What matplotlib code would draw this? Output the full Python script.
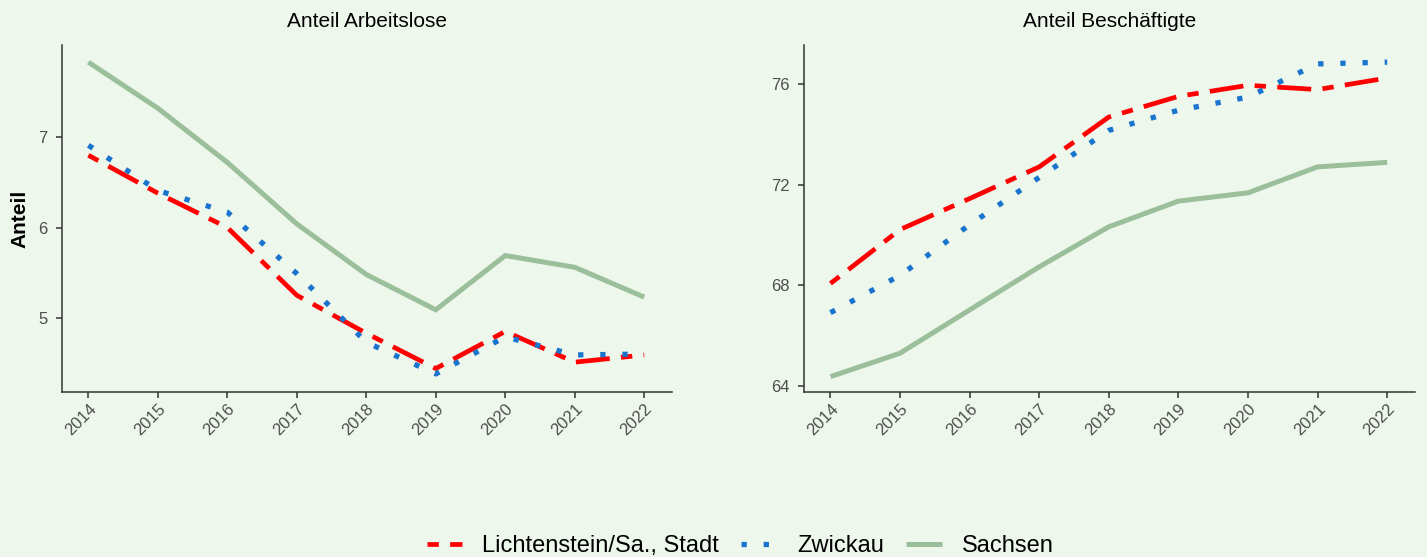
import matplotlib
matplotlib.use("Agg")
import matplotlib.pyplot as plt
from matplotlib.lines import Line2D

plt.rcParams['font.family'] = ['Liberation Sans', 'DejaVu Sans']

years = [2014, 2015, 2016, 2017, 2018, 2019, 2020, 2021, 2022]

# Anteil Arbeitslose
alo_lichtenstein = [6.80, 6.38, 6.00, 5.25, 4.83, 4.44, 4.85, 4.51, 4.59]
alo_zwickau = [6.91, 6.41, 6.17, 5.49, 4.73, 4.38, 4.79, 4.59, 4.60]
alo_sachsen = [7.83, 7.32, 6.72, 6.04, 5.48, 5.09, 5.69, 5.56, 5.23]

# Anteil Beschaeftigte
bes_lichtenstein = [68.08, 70.22, 71.45, 72.71, 74.69, 75.51, 75.95, 75.78, 76.24]
bes_zwickau = [66.92, 68.40, 70.41, 72.29, 74.16, 74.96, 75.48, 76.80, 76.87]
bes_sachsen = [64.38, 65.31, 67.03, 68.74, 70.33, 71.35, 71.68, 72.71, 72.89]

names = ['Lichtenstein/Sa., Stadt', 'Zwickau', 'Sachsen']

bg = '#EEF7EC'
red = '#FF0000'
blue = '#1874CD'
green = '#9BBF9B'

W, H = 1427, 557
fig = plt.figure(figsize=(W / 100, H / 100), dpi=100, facecolor=bg)


def box(x0, y0, x1, y1):
    return [x0 / W, 1 - y1 / H, (x1 - x0) / W, (y1 - y0) / H]


ax1 = fig.add_axes(box(62, 45, 672, 392))
ax2 = fig.add_axes(box(804, 45, 1415, 392))

# twodash for Lichtenstein, dotted for Zwickau, solid for Sachsen
styles = [
    dict(color=red, lw=3.4, linestyle=(0, (2.4, 2.4, 7.2, 2.4)), dash_capstyle='butt'),
    dict(color=blue, lw=3.8, linestyle=(0, (1, 3.2)), dash_capstyle='butt'),
    dict(color=green, lw=3.6, linestyle='-', solid_capstyle='butt'),
]


def panel(ax, series, title, yticks, ylim):
    ax.set_facecolor(bg)
    for vals, st in zip(series, styles):
        ax.plot(years, vals, solid_joinstyle='miter', **st)
    ax.set_xlim(2013.62, 2022.4)
    ax.set_ylim(*ylim)
    ax.set_xticks(years)
    ax.set_xticklabels([str(y) for y in years], rotation=45, ha='right',
                       va='top', rotation_mode='anchor')
    ax.set_yticks(yticks)
    ax.tick_params(axis='both', colors='#333333', length=4.5, width=1.1,
                   labelcolor='#4D4D4D', labelsize=12)
    ax.tick_params(axis='x', pad=2)
    ax.tick_params(axis='y', pad=6)
    for s in ['top', 'right']:
        ax.spines[s].set_visible(False)
    for s in ['left', 'bottom']:
        ax.spines[s].set_color('#333333')
        ax.spines[s].set_linewidth(1.1)
    ax.set_title(title, fontsize=15, pad=13)


panel(ax1, [alo_lichtenstein, alo_zwickau, alo_sachsen], 'Anteil Arbeitslose',
      [5, 6, 7], (4.18, 8.02))
panel(ax2, [bes_lichtenstein, bes_zwickau, bes_sachsen], 'Anteil Beschäftigte',
      [64, 68, 72, 76], (63.77, 77.55))
ax1.set_ylabel('Anteil', fontsize=15, fontweight='bold', labelpad=6)

handles = [Line2D([], [], **st) for st in styles]
fig.legend(handles, names, loc='center', bbox_to_anchor=(740 / W, 1 - 546 / H),
           ncol=3, frameon=False, fontsize=17, handlelength=1.5,
           columnspacing=0.95, handletextpad=0.85)

fig.savefig('out.png', dpi=100, facecolor=bg)
